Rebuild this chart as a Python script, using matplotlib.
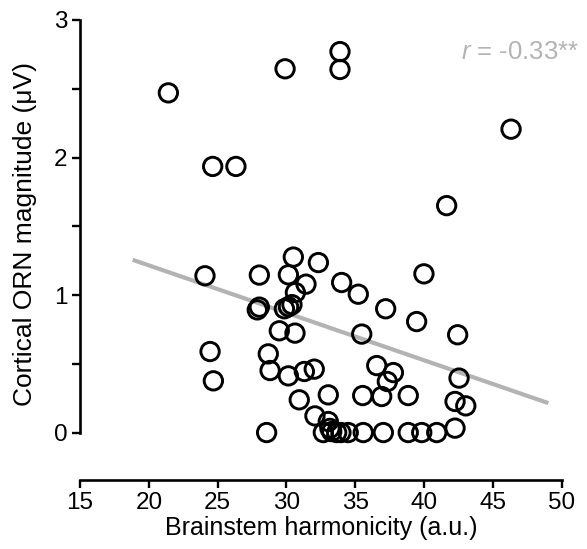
import numpy as np
import matplotlib
matplotlib.use("Agg")
import matplotlib.pyplot as plt
from matplotlib.ticker import MultipleLocator

plt.rcParams['font.family'] = ['Liberation Sans', 'DejaVu Sans']
plt.rcParams['mathtext.fontset'] = 'custom'
plt.rcParams['mathtext.it'] = 'Liberation Sans:italic'
plt.rcParams['mathtext.rm'] = 'Liberation Sans'

# harmonicity (a.u.) vs cortical ORN magnitude (uV)
harmonicity = [
    21.42, 29.90, 24.64, 26.33, 33.89, 33.89, 46.32, 41.64,
    24.08, 28.03, 30.50, 32.32, 30.14, 31.42, 30.65, 28.03, 27.88,
    29.85, 30.15, 30.40, 29.48, 30.62, 24.45, 28.68, 24.69, 28.81,
    30.14, 31.30, 32.02, 30.93, 33.04, 32.07, 28.56,
    39.99, 34.01, 35.22, 37.21, 39.46, 42.44, 35.47, 36.56, 37.77,
    37.33, 42.54, 35.54, 36.92, 38.85, 42.25, 43.03,
    32.68, 33.04, 33.16, 33.29, 33.65, 33.96, 34.49, 35.58, 37.04,
    38.85, 39.83, 40.92, 42.25,
]
orn_magnitude = [
    2.47, 2.645, 1.935, 1.935, 2.77, 2.64, 2.206, 1.65,
    1.14, 1.145, 1.276, 1.236, 1.147, 1.079, 1.018, 0.912, 0.892,
    0.90, 0.915, 0.93, 0.74, 0.723, 0.589, 0.572, 0.376, 0.451,
    0.412, 0.444, 0.461, 0.238, 0.274, 0.121, 0.0,
    1.154, 1.091, 1.006, 0.90, 0.807, 0.711, 0.716, 0.487, 0.436,
    0.371, 0.396, 0.269, 0.262, 0.269, 0.226, 0.194,
    0.0, 0.08, 0.03, 0.007, 0.0, 0.0, 0.0, 0.0, 0.0,
    0.0, 0.0, 0.0, 0.032,
]

# regression line end points
fit_x = [18.83, 49.03]
fit_y = [1.256, 0.214]

r_label = r'$r$ = -0.33**'

fig = plt.figure(figsize=(5.87, 5.49), dpi=100)
ax = fig.add_axes([0.1363, 0.1257, 0.8206, 0.8379])

ax.plot(fit_x, fit_y, color='#b3b3b3', lw=3, solid_capstyle='butt', zorder=1)
ax.scatter(harmonicity, orn_magnitude, s=175, facecolors='none',
           edgecolors='black', linewidths=2.1, zorder=2, clip_on=False)

ax.set_xlim(15, 50)
ax.set_ylim(-0.345, 3.0)
ax.spines['top'].set_visible(False)
ax.spines['right'].set_visible(False)
ax.spines['left'].set_bounds(0, 3)
for s in ['left', 'bottom']:
    ax.spines[s].set_linewidth(1.9)

ax.xaxis.set_major_locator(MultipleLocator(5))
ax.yaxis.set_major_locator(MultipleLocator(1))
ax.yaxis.set_minor_locator(MultipleLocator(0.5))
ax.tick_params(axis='both', which='both', width=1.7, length=6,
               labelsize=17.5, pad=3)

ax.set_xlabel('Brainstem harmonicity (a.u.)', fontsize=18, labelpad=1)
ax.set_ylabel('Cortical ORN magnitude (\u03bcV)', fontsize=19, labelpad=3)
ax.yaxis.set_label_coords(-0.09, 0.535)

ax.text(42.65, 2.77, r_label, color='#b3b3b3', fontsize=18.5,
        ha='left', va='center', clip_on=False)

fig.savefig('out.png', dpi=100)
